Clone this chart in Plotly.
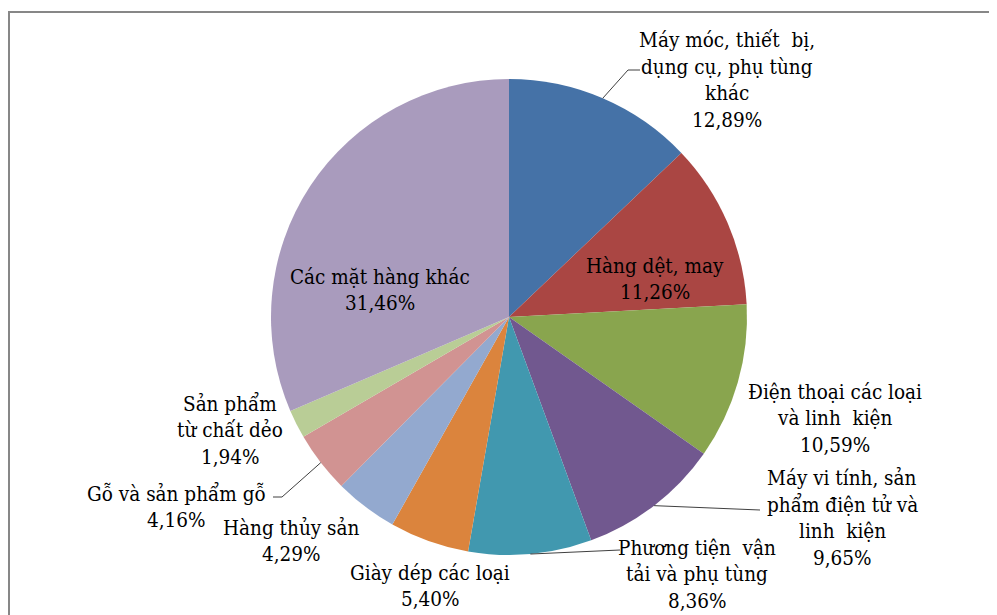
import math
import plotly.graph_objects as go

label_lines = [
    ["Máy móc, thiết  bị,", "dụng cụ, phụ tùng", "khác"],
    ["Hàng dệt, may"],
    ["Điện thoại các loại", "và linh  kiện"],
    ["Máy vi tính, sản", "phẩm điện tử và", "linh  kiện"],
    ["Phương tiện  vận", "tải và phụ tùng"],
    ["Giày dép các loại"],
    ["Hàng thủy sản"],
    ["Gỗ và sản phẩm gỗ"],
    ["Sản phẩm", "từ chất dẻo"],
    ["Các mặt hàng khác"],
]
values = [12.89, 11.26, 10.59, 9.65, 8.36, 5.40, 4.29, 4.16, 1.94, 31.46]
value_text = ["12,89%", "11,26%", "10,59%", "9,65%", "8,36%", "5,40%", "4,29%", "4,16%", "1,94%", "31,46%"]
colors = ["#4572A7", "#AA4643", "#89A54E", "#71588F", "#4198AF",
          "#DB843D", "#93A9CF", "#D19392", "#B9CD96", "#A99BBD"]

W, H = 997, 615
OFF = 8  # page body margin
CX, CY, R = 509, 317, 238
PITCH = 26.5

label_pos = [(727, 80), (655, 279), (835, 418), (842, 518), (697, 574),
             (430, 586), (291, 541), (176, 507), (230, 430), (380, 290)]
leaders = {0: [(628, 70), (640, 70)], 3: [(760, 510)], 4: [(620, 550)],
           7: [(282, 497), (273, 497)]}

def px(x):
    return (x - OFF) / W

def py(y):
    return 1 - (y - OFF) / H

FONT = dict(family="DejaVu Serif Condensed", size=20.5, color="#000000")

fig = go.Figure(go.Pie(
    labels=[" ".join(l) for l in label_lines],
    values=values,
    sort=False,
    direction="clockwise",
    rotation=0,
    textinfo="none",
    hoverinfo="label+percent",
    marker=dict(colors=colors, line=dict(width=0)),
    domain=dict(x=[px(CX - R), px(CX + R)], y=[py(CY + R), py(CY - R)]),
    showlegend=False,
))

total = sum(values)
cum = 0.0
shapes = []
annotations = []
for i, v in enumerate(values):
    mid = (cum + v / 2) / total * 2 * math.pi
    cum += v
    ex, ey = CX + R * math.sin(mid), CY - R * math.cos(mid)
    if i in leaders:
        pts = [(ex, ey)] + leaders[i]
        for (x0, y0), (x1, y1) in zip(pts[:-1], pts[1:]):
            shapes.append(dict(type="line", xref="paper", yref="paper",
                               x0=px(x0), y0=py(y0), x1=px(x1), y1=py(y1),
                               line=dict(color="#404040", width=1)))
    lx, ly = label_pos[i]
    lines = label_lines[i] + [value_text[i]]
    n = len(lines)
    for k, t in enumerate(lines):
        yy = ly + (k - (n - 1) / 2) * PITCH
        annotations.append(dict(
            text=t, x=px(lx), y=py(yy), xref="paper", yref="paper",
            xanchor="center", yanchor="middle", showarrow=False,
            font=FONT, align="center",
        ))

shapes.append(dict(type="rect", xref="paper", yref="paper",
                   x0=px(9), y0=py(640), x1=px(1020), y1=py(12),
                   line=dict(color="#878787", width=2), fillcolor="rgba(0,0,0,0)",
                   layer="below"))

fig.update_layout(
    width=W, height=H,
    margin=dict(l=0, r=0, t=0, b=0),
    paper_bgcolor="#FFFFFF",
    plot_bgcolor="#FFFFFF",
    font=FONT,
    shapes=shapes,
    annotations=annotations,
)

fig.write_html("out.html")
